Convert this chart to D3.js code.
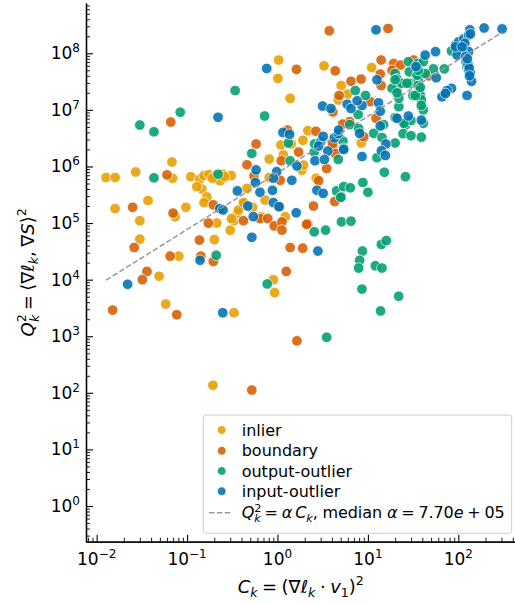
<!DOCTYPE html>
<html><head><meta charset="utf-8">
<script src="https://cdn.jsdelivr.net/npm/d3@7"></script>
<style>body{margin:0;background:#fff}svg{display:block}text{font-family:"DejaVu Sans",sans-serif;fill:#000}</style>
</head><body><svg id="c" width="515" height="605"></svg>
<script>
const categories = ["inlier","boundary","output-outlier","input-outlier"];
const palette = ["#E69F00","#D55E00","#009E73","#0072B2"];
const medianAlpha = 7.70e5;
const xTickExps = [-2,-1,0,1,2];
const yTickExps = [0,1,2,3,4,5,6,7,8];

const inlier = [[1.03,7.6e7],[1.01,3.6e7],[3.27,6.0e7],[1.38,1.6e7],[5.07,2.7e7],[4.7,1.5e7],[5.96,1.9e7],[11,5.6e7],
[0.068,1.2e6],[0.027,8.0e5],[0.0127,6.4e5],[0.016,6.4e5],[0.069,6.2e5],[0.11,6.6e5],[0.137,5.9e5],[0.154,6.9e5],
[0.175,7.2e5],[0.204,6.8e5],[0.248,7.3e5],[0.307,6.9e5],[0.232,5.6e5],[0.146,4.0e5],[0.128,4.4e5],[0.165,2.9e5],
[0.154,2.3e5],[0.097,1.9e5],[0.037,2.5e5],[0.030,1.1e5],[0.030,5.2e4],[0.016,1.8e5],[0.081,2.6e4],[0.049,1.15e4],
[0.20,5.1e4],[0.213,1.0e5],[0.30,7.5e4],[0.33,1.1e5],[0.36,1.5e5],[0.46,2.0e5],[0.46,4.1e5],[0.058,3.7e3],
[0.33,2.6e3],[0.193,136],[0.93,5.9e3],[0.90,1.0e4],[2.17,4.3e6],[0.81,1.35e6],[1.86,8.6e5],[1.16,1.6e6],
[1.42,2.5e6],[1.09,2.4e6],[1.91,2.9e6],[0.81,6.4e5],[0.73,2.55e5],[1.22,1.29e5],[0.43,2.2e5],[0.37,1.7e5],
[0.31,1.2e5],[0.074,1.29e5],[2.68,6.2e5],[1.94,1.06e6],[0.66,1.29e5],[8.45,2.6e6],[0.42,2.3e5],[0.53,1.9e5],
[0.19,6.2e5],[0.26,6.6e5]];

const boundary = [[3.74,2.5e8],[16.7,2.75e8],[1.62,5.2e7],[4.35,4.9e7],[6.5,3.2e7],[8.4,3.5e7],[4.8,1.8e7],[14,7.6e7],
[13.7,4.3e7],[14,2.7e7],[19.3,6.6e7],[23,6.2e7],[18.5,5.0e7],[47,4.0e7],[32,7.6e7],[0.066,6.1e6],[0.58,2.5e6],
[0.46,1.07e6],[0.55,6.8e5],[0.060,7.1e5],[0.025,1.9e5],[0.070,1.5e5],[0.172,1.0e5],[0.195,2.1e5],[0.137,5.0e4],
[0.026,3.7e4],[0.065,2.6e4],[0.142,2.6e4],[0.195,2.1e4],[0.036,1.4e4],[0.032,1.0e4],[0.42,1.1e5],[0.015,2.9e3],
[0.077,2.4e3],[0.52,112],[1.25,1.4e4],[1.64,830],[4.1,9.2e6],[12.3,7.1e6],[6.3,6.2e6],[9.0,3.35e6],[10.6,1.4e7],
[4.3,2.4e5],[2.15,9.6e4],[1.38,3.7e4],[1.9,3.6e4],[1.29,4.4e6],[2.66,4.2e6],[4.1,2.3e6],[3.5,9.2e5],[2.85,5.6e5],
[2.5,2.0e5],[2.1,9.5e4],[1.1,1.26e6],[1.71,1.8e6],[1.07,5.7e5],[0.64,1.2e5],[0.78,1.2e5],[0.92,8.9e4],[1.12,1.05e5],
[1.12,7.5e4],[4.06,2.5e6],[5.25,5.6e6],[1.05,1.95e5],[4.35,1.7e6]];

const outputOutlier = [[0.34,2.2e7],[0.084,9.1e6],[0.030,5.4e6],[0.043,4.1e6],[0.52,1.7e6],[0.043,6.3e5],[0.22,7.3e5],
[0.21,2.7e4],[0.77,8.4e3],[8.6,6.8e3],[21.9,5.1e3],[13.8,2.8e3],[3.5,960],[0.72,7.8e6],[20,4.4e7],[28,7.1e7],
[35.5,6.6e7],[41,7.1e7],[53,5.3e7],[70,5.3e7],[84,1.1e8],[28.7,4.7e7],[21,3.5e7],[29.5,2.95e7],[36,3.4e7],[36,2.7e7],
[37,2.2e7],[38,1.8e7],[39,1.5e7],[41,1.0e7],[41,5.8e6],[26,5.4e6],[30,6.5e6],[24.5,3.8e6],[30,3.5e6],[39,3.3e6],
[20,2.6e6],[20,7.3e6],[22,1.14e7],[22,1.6e7],[21,2.4e7],[18.5,2.4e7],[23.8,2.95e7],[31.5,1.8e7],[7.25,2.2e7],
[9.4,1.8e7],[7.8,8.3e6],[14.9,5.5e6],[6.3,5.5e6],[7.9,4.7e6],[11.6,3.85e6],[14.3,3.25e6],[12.6,1.43e6],[15.2,7.9e5],
[26,6.6e5],[8.8,5.2e5],[10,3.5e5],[4.5,3.7e5],[5.4,4.4e5],[6.4,4.2e5],[5.1,2.9e5],[5.1,1.05e5],[6.5,1.08e5],
[3.4,7.5e4],[2.55,7.0e4],[14.1,4.2e4],[16,4.9e4],[8.7,3.2e4],[8.1,2.2e4],[7.9,1.6e4],[12.1,1.76e4],[14.3,1.6e4],
[5.3,2.8e6],[2.55,1.8e6],[4.7,1.33e6],[1.38,1.26e6],[1.32,2.6e6],[5.4,2.1e6],[5.0,2.85e5],[2.57,2.5e6],[35,4.1e7],
[43,4.4e7],[33.5,1.8e7],[25,5.8e6],[36,5.0e7],[38,2.5e7],[39,1.2e7],[20,3.4e7],[21,2.0e7],[27,2.95e7]];

const inputOutlier = [[12.3,2.6e8],[134,2.6e8],[193,2.8e8],[305,2.7e8],[0.76,5.4e7],[12.6,3.4e7],[34,5.8e7],[43,9.3e7],
[56,1.07e8],[57,3.7e7],[39,6.6e6],[28,7.8e6],[21,7.1e6],[93,1.4e8],[101,1.6e8],[115,1.8e8],[130,2.1e8],[118,1.5e8],
[130,1.07e8],[110,1.07e8],[97,9.3e7],[120,8.7e7],[122,7.1e7],[125,5.8e7],[130,5.0e7],[136,4.5e7],[140,3.2e7],
[125,1.8e7],[84,2.4e7],[75,2.2e7],[66,1.7e7],[136,2.2e8],[93,1.3e8],[110,1.3e8],[72,1.95e7],[0.22,7.4e6],[0.58,8.7e5],
[0.57,5.2e5],[0.64,3.5e5],[0.36,3.7e5],[0.23,1.8e5],[0.25,1.7e5],[0.47,2.0e5],[0.54,1.3e5],[0.52,5.6e4],[0.139,2.2e4],
[0.022,8.3e3],[0.248,2.6e3],[3.15,1.17e7],[3.9,1.06e7],[5.9,1.26e7],[6.5,1.06e7],[8.6,1.2e7],[7.6,1.45e7],[13.1,1.33e7],
[13.7,9.5e6],[13.7,5.2e6],[8.1,3.85e6],[15.8,2.5e6],[14.1,1.9e6],[15.6,1.57e6],[8.6,1.5e6],[2.8,3.2e4],[1.15,4.0e6],
[1.36,3.7e6],[4.25,3.2e6],[4.7,3.8e6],[3.0,2.7e6],[2.85,2.3e6],[3.6,1.87e6],[2.6,1.26e6],[3.3,1.33e6],[2.73,3.8e5],
[1.61,1.52e5],[1.64,1.02e6],[0.98,8.1e5],[0.9,6.2e5],[0.88,3.8e5],[0.9,2.3e5],[1.44,5.7e5],[1.04,1.95e5],[3.2,3.35e5],
[5.4,2.0e6],[4.75,4.4e6],[3.2,3.4e6],[128,6.4e7],[132,5.5e7],[126,8.0e7],[133,4.0e7]];

const series = [inlier, boundary, outputOutlier, inputOutlier];

const L = 86, R = 519.5, T = 3, B = 541.7;
const x = d3.scaleLog().domain([7.62e-3, 475]).range([L, R]);
const y = d3.scaleLog().domain([0.234, 7.74e8]).range([B, T]);
const svg = d3.select("#c");

function minors(scale){
  const [a,b] = scale.domain(); const out=[];
  for(let e=Math.floor(Math.log10(a)); e<=Math.ceil(Math.log10(b)); e++)
    for(let m=2;m<=9;m++){const v=m*Math.pow(10,e); if(v>=a&&v<=b) out.push(v);}
  return out;
}

// points
const g = svg.append("g");
series.forEach((s,i)=>{
  g.selectAll(null).data(s).enter().append("circle")
    .attr("cx",d=>x(d[0])).attr("cy",d=>y(d[1])).attr("r",5.3)
    .attr("fill",palette[i]).attr("stroke","#fff").attr("stroke-width",0.8)
    .attr("opacity",0.88);
});

// reference line
const allC = series.flat().map(d=>d[0]);
const cExt = d3.extent(allC);
const lineData = cExt.map(c=>[c, medianAlpha*c]);
svg.append("path").datum(lineData)
  .attr("d", d3.line().x(d=>x(d[0])).y(d=>y(d[1])))
  .attr("fill","none").attr("stroke","#999").attr("stroke-width",1.5)
  .attr("stroke-dasharray","5.5,2.4");

// axes
const yAxis = d3.axisLeft(y).tickValues(yTickExps.map(e=>Math.pow(10,e))).tickFormat("").tickSizeInner(-7).tickSizeOuter(0);
const yMinor = d3.axisLeft(y).tickValues(minors(y)).tickFormat("").tickSizeInner(-4).tickSizeOuter(0);
const xAxis = d3.axisBottom(x).tickValues(xTickExps.map(e=>Math.pow(10,e))).tickFormat("").tickSizeInner(-7).tickSizeOuter(0);
const xMinor = d3.axisBottom(x).tickValues(minors(x)).tickFormat("").tickSizeInner(-4).tickSizeOuter(0);
function style(sel,w){ sel.selectAll(".domain").attr("stroke","#000").attr("stroke-width",1.3); sel.selectAll(".tick line").attr("stroke","#000").attr("stroke-width",w);}
svg.append("g").attr("transform",`translate(${L},0)`).call(yMinor).call(s=>style(s,0.9));
svg.append("g").attr("transform",`translate(${L},0)`).call(yAxis).call(s=>style(s,1.1));
svg.append("g").attr("transform",`translate(0,${B})`).call(xMinor).call(s=>style(s,0.9));
svg.append("g").attr("transform",`translate(0,${B})`).call(xAxis).call(s=>style(s,1.1));

// tick labels
const fs = 17, sfs = 12;
yTickExps.forEach(e=>{
  const t = svg.append("text").attr("x",L-6).attr("y",y(Math.pow(10,e))+6).attr("text-anchor","end").attr("font-size",fs);
  t.append("tspan").text("10");
  t.append("tspan").attr("font-size",sfs).attr("dy",-7).text(String(e));
});
xTickExps.forEach(e=>{
  const t = svg.append("text").attr("x",x(Math.pow(10,e))).attr("y",565).attr("text-anchor","middle").attr("font-size",fs);
  t.append("tspan").text("10");
  t.append("tspan").attr("font-size",sfs).attr("dy",-7).text(e<0?"\u2212"+(-e):String(e));
});

// rich text helper with baseline tracking
function rich(t, parts, size){
  const small = size*0.7, subOff = size*0.22, supOff = -size*0.42;
  let cur = 0;
  function add(txt, off, opts){
    const sp = t.append("tspan").attr("dy", off-cur).text(txt);
    cur = off;
    if(opts.small) sp.attr("font-size", small);
    if(opts.italic) sp.attr("font-style","italic");
    if(opts.dx) sp.attr("dx", opts.dx);
    return sp;
  }
  parts.forEach(([s,k])=>{
    if(k==="i") add(s,0,{italic:true});
    else if(k==="sub") add(s,subOff,{small:true,italic:true});
    else if(k==="subn") add(s,subOff,{small:true});
    else if(k==="sup") add(s,supOff,{small:true});
    else if(k==="subsup"){
      add(s[1],supOff,{small:true});
      add(s[0],subOff+size*0.04,{small:true,italic:true,dx:-small*0.62});
    }
    else add(s,0,{});
  });
}

// axis labels
const lfs = 18;
const xl = svg.append("text").attr("x",(L+R)/2-2).attr("y",593).attr("text-anchor","middle").attr("font-size",lfs);
rich(xl, [["C","i"],["k","sub"],["\u2005=\u2005(\u2207",""],["\u2113","i"],["k","sub"],["\u2005\u00b7\u2005",""],["v","i"],["1","subn"],[")",""],["2","sup"]], lfs);
const yl = svg.append("text").attr("transform",`translate(34,${(T+B)/2}) rotate(-90)`).attr("text-anchor","middle").attr("font-size",lfs);
rich(yl, [["Q","i"],[["k","2"],"subsup"],["\u2005=\u2005\u27e8\u2207",""],["\u2113","i"],["k","sub"],[",\u2005\u2207",""],["S","i"],["\u27e9",""],["2","sup"]], lfs);

// legend
const lg = svg.append("g");
lg.append("rect").attr("x",203.3).attr("y",415).attr("width",308.4).attr("height",118.3).attr("rx",3)
  .attr("fill","#fff").attr("fill-opacity",0.8).attr("stroke","#ccc").attr("stroke-width",1);
const rowY = [430, 450.7, 471, 491.2, 512.7];
const legFs = 16;
categories.forEach((c,i)=>{
  lg.append("circle").attr("cx",221.7).attr("cy",rowY[i]).attr("r",4.3).attr("fill",palette[i])
    .attr("stroke","#fff").attr("stroke-width",0.6).attr("opacity",0.88);
  lg.append("text").attr("x",241.7).attr("y",rowY[i]+5.6).attr("font-size",legFs).text(c);
});
lg.append("line").attr("x1",209).attr("x2",232).attr("y1",rowY[4]).attr("y2",rowY[4])
  .attr("stroke","#999").attr("stroke-width",1.5).attr("stroke-dasharray","5.5,2.4");
const lt = lg.append("text").attr("x",241.7).attr("y",rowY[4]+5.6).attr("font-size",legFs)
  .attr("textLength",263).attr("lengthAdjust","spacing");
rich(lt, [["Q","i"],[["k","2"],"subsup"],["\u2005=\u2005",""],["\u03b1","i"],["\u2009",""],["C","i"],["k","sub"],[", median ",""],["\u03b1","i"],["\u2005=\u20057.70",""],["e","i"],["\u2005+\u200505",""]], legFs);
</script></body></html>
